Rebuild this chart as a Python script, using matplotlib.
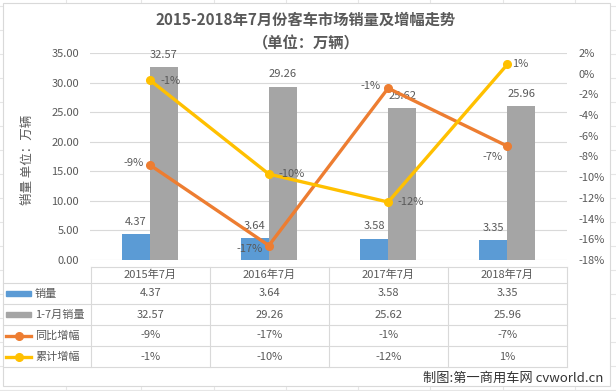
import numpy as np
import matplotlib
matplotlib.use('Agg')
import matplotlib.pyplot as plt
from matplotlib.patches import Rectangle
from matplotlib.lines import Line2D

plt.rcParams['font.family'] = ['Noto Sans CJK SC', 'DejaVu Sans']

# 数据
months = ['2015年7月', '2016年7月', '2017年7月', '2018年7月']
sales = [4.37, 3.64, 3.58, 3.35]
cum_sales = [32.57, 29.26, 25.62, 25.96]
yoy = [-8.8, -16.6, -1.4, -7.0]          # 同比增幅 %
cum_growth = [-0.6, -9.7, -12.4, 0.9]    # 累计增幅 %
series_names = ['销量', '1-7月销量', '同比增幅', '累计增幅']

BLUE, GRAY, ORANGE, YELLOW = '#5B9BD5', '#A5A5A5', '#ED7D31', '#FFC000'
TXT = '#595959'
GRID = '#D9D9D9'

W, H = 616, 391
fig = plt.figure(figsize=(W / 100, H / 100), dpi=100)


def px_box(x0, y0, x1, y1):
    return [x0 / W, 1 - y1 / H, (x1 - x0) / W, (y1 - y0) / H]


# 背景：表格网格 + 图表区
bg = fig.add_axes([0, 0, 1, 1])
bg.set_xlim(0, W)
bg.set_ylim(H, 0)
bg.axis('off')
for y in range(6, H, 24):
    bg.axhline(y, color='#E6E6E6', lw=0.8, zorder=1)
for x in [66, 141, 214, 286, 358, 430, 503, 575]:
    bg.axvline(x, color='#E6E6E6', lw=0.8, zorder=1)
bg.add_patch(Rectangle((3, 3), 607, 383, facecolor='white', edgecolor=GRID,
                       lw=0.8, zorder=3))

bg.text(306, 20, '2015-2018年7月份客车市场销量及增幅走势', ha='center', va='center',
        fontsize=11, fontweight='bold', color=TXT, zorder=5)
bg.text(306, 43, '（单位：万辆）', ha='center', va='center',
        fontsize=11, fontweight='bold', color=TXT, zorder=5)
bg.text(27, 160, '销量 单位：万辆', rotation=90, ha='center', va='center',
        fontsize=9, color=TXT, zorder=5)
bg.text(603, 378, '制图:第一商用车网 cvworld.cn', ha='right', va='center',
        fontsize=9.5, color='#333333', zorder=5)

# 主图
ax = fig.add_axes(px_box(90, 53, 567, 260))
ax.patch.set_alpha(0)
x = np.arange(len(months))
w = 0.235
b1 = ax.bar(x - w / 2, sales, w, color=BLUE, zorder=2)
b2 = ax.bar(x + w / 2, cum_sales, w, color=GRAY, zorder=2)
for bars, vals in [(b1, sales), (b2, cum_sales)]:
    for r, v in zip(bars, vals):
        ax.annotate(f'{v:.2f}', (r.get_x() + r.get_width() / 2, v),
                    xytext=(0, 9), textcoords='offset points',
                    ha='center', va='center', fontsize=8, color=TXT)
ax.set_xlim(-0.5, 3.5)
ax.set_ylim(0, 35)
ax.set_yticks(np.arange(0, 36, 5))
ax.set_yticklabels([f'{v:.2f}' for v in np.arange(0, 36, 5)])
ax.set_xticks([])
ax.grid(axis='y', color=GRID, lw=0.8, zorder=0)
ax.tick_params(axis='y', length=0, pad=8, labelsize=8, labelcolor=TXT)
for s in ax.spines.values():
    s.set_visible(False)

ax2 = ax.twinx()
ax2.set_ylim(-18, 2)
ax2.set_yticks(range(-18, 3, 2))
ax2.set_yticklabels([f'{v}%' for v in range(-18, 3, 2)])
ax2.tick_params(axis='y', length=0, pad=8, labelsize=8, labelcolor=TXT)
for s in ax2.spines.values():
    s.set_visible(False)

ax2.plot(x, yoy, color=ORANGE, lw=2.4, marker='o', ms=5.5, zorder=3)
ax2.plot(x, cum_growth, color=YELLOW, lw=2.4, marker='o', ms=5.5, zorder=3)

yoy_off = [(-16, -2), (-19, 3), (-18, -2), (-15, 11)]
cum_off = [(21, 1), (23, 0), (23, 0), (13, 0)]
for xi, v, (dx, dy) in zip(x, yoy, yoy_off):
    ax2.annotate(f'{round(v)}%', (xi, v), xytext=(dx * 0.72, -dy * 0.72),
                 textcoords='offset points', ha='center', va='center',
                 fontsize=8, color=TXT)
for xi, v, (dx, dy) in zip(x, cum_growth, cum_off):
    ax2.annotate(f'{round(v)}%', (xi, v), xytext=(dx * 0.72, -dy * 0.72),
                 textcoords='offset points', ha='center', va='center',
                 fontsize=8, color=TXT)

# 数据表
col_edges = [91, 209.5, 329, 448, 567]
row_edges = [267, 283, 304, 325, 346, 367]
bg.plot([91, 567], [267, 267], color=GRID, lw=0.8, zorder=4)
for y in row_edges[1:]:
    bg.plot([3, 567], [y, y], color=GRID, lw=0.8, zorder=4)
for xe in col_edges:
    bg.plot([xe, xe], [267, 367], color=GRID, lw=0.8, zorder=4)

col_centers = [(a + b) / 2 for a, b in zip(col_edges[:-1], col_edges[1:])]
row_centers = [(a + b) / 2 for a, b in zip(row_edges[:-1], row_edges[1:])]

for cx, m in zip(col_centers, months):
    bg.text(cx, row_centers[0], m, ha='center', va='center', fontsize=8,
            color=TXT, zorder=5)

rows = [
    [f'{v:.2f}' for v in sales],
    [f'{v:.2f}' for v in cum_sales],
    [f'{round(v)}%' for v in yoy],
    [f'{round(v)}%' for v in cum_growth],
]
for ry, name, vals, col, kind in zip(row_centers[1:], series_names, rows,
                                     [BLUE, GRAY, ORANGE, YELLOW],
                                     ['bar', 'bar', 'line', 'line']):
    if kind == 'bar':
        bg.add_patch(Rectangle((6, ry - 2.5), 25, 5, color=col, zorder=5))
    else:
        bg.add_line(Line2D([6, 31], [ry, ry], color=col, lw=2.4, zorder=5))
        bg.plot([18.5], [ry], marker='o', ms=5.5, color=col, zorder=5)
    bg.text(35, ry, name, ha='left', va='center', fontsize=8, color=TXT, zorder=5)
    for cx, s in zip(col_centers, vals):
        bg.text(cx, ry, s, ha='center', va='center', fontsize=8, color=TXT,
                zorder=5)

fig.savefig('out.png', dpi=100)
